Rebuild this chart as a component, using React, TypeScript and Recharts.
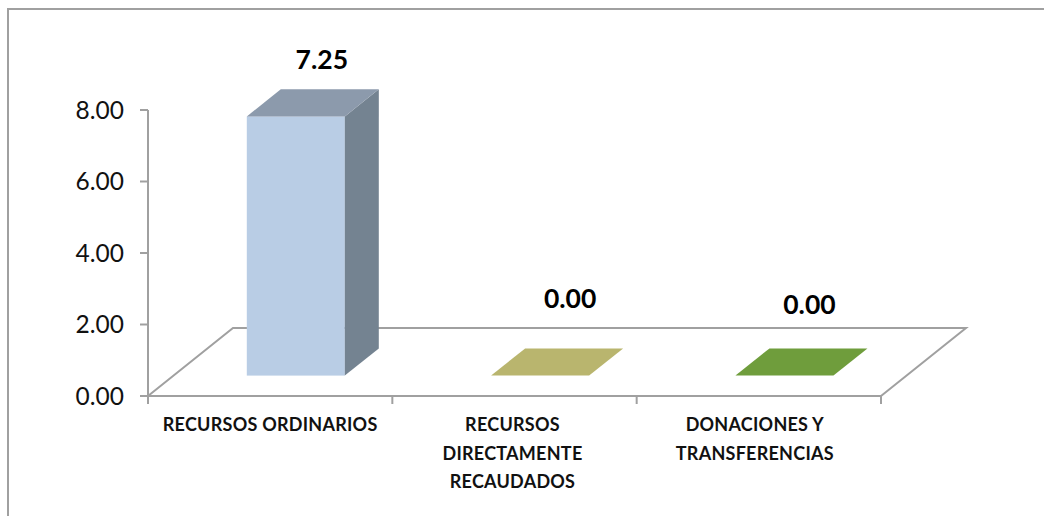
import React from 'react';
import { BarChart, Bar, XAxis, YAxis, LabelList, usePlotArea } from 'recharts';

const categories = ['RECURSOS ORDINARIOS', 'RECURSOS\nDIRECTAMENTE\nRECAUDADOS', 'DONACIONES Y\nTRANSFERENCIAS'];
const values = [7.25, 0, 0];
const yTicks = [0, 2, 4, 6, 8];

const frontColors = ['#B9CDE5', '#B9B56E', '#6F9D3C'];
const topColors = ['#8C9AAC', '#B9B56E', '#6F9D3C'];
const sideColors = ['#748391', '#B9B56E', '#6F9D3C'];

// excel's 3d box: floor depth, and where the bars sit on it
const DEPTH_X = 85;
const DEPTH_Y = 68;
const BAR_FRONT = 0.3;
const BAR_DEPTH = 0.4;
const GREY = '#A0A0A0';
const FONT = 'Lato, sans-serif';

// nudges for the value labels, excel placed them by hand
const labelNudge = [
  { dx: 9, dy: -30 },
  { dx: 13, dy: -50 },
  { dx: 8, dy: -44 },
];

const data = categories.map((name, i) => ({ name, value: values[i] }));

function Floor() {
  const plot = usePlotArea();
  if (!plot) return null;
  const left = plot.x;
  const right = plot.x + plot.width;
  const bottom = plot.y + plot.height;
  const band = plot.width / categories.length;
  return (
    <g fill="none" stroke={GREY} strokeWidth={2}>
      <path d={`M${left} ${bottom}L${left + DEPTH_X} ${bottom - DEPTH_Y}H${right + DEPTH_X}L${right} ${bottom}`} />
      {[0, 1, 2, 3].map((i) => (
        <line key={i} x1={left + i * band} x2={left + i * band} y1={bottom} y2={bottom + 8} />
      ))}
    </g>
  );
}

function Box(props: any) {
  const { x, y, width, height, index } = props;
  const fx = x + BAR_FRONT * DEPTH_X;
  const fy = y - BAR_FRONT * DEPTH_Y;
  const dx = BAR_DEPTH * DEPTH_X;
  const dy = BAR_DEPTH * DEPTH_Y;
  return (
    <g>
      <rect x={fx} y={fy} width={width} height={height} fill={frontColors[index]} />
      <path
        d={`M${fx + width} ${fy}l${dx} ${-dy}v${height}l${-dx} ${dy}z`}
        fill={sideColors[index]}
      />
      <path
        d={`M${fx} ${fy}l${dx} ${-dy}h${width}l${-dx} ${dy}z`}
        fill={topColors[index]}
      />
    </g>
  );
}

function ValueLabel(props: any) {
  const { x, y, width, value, index } = props;
  const cx = x + width / 2 + BAR_FRONT * DEPTH_X + (BAR_DEPTH * DEPTH_X) / 2 + labelNudge[index].dx;
  const cy = y - (BAR_FRONT + BAR_DEPTH) * DEPTH_Y + labelNudge[index].dy;
  return (
    <text x={cx} y={cy} textAnchor="middle" dominantBaseline="central" fontFamily={FONT} fontWeight={700} fontSize={26.5} fill="#000">
      {Number(value).toFixed(2)}
    </text>
  );
}

function CategoryTick(props: any) {
  const { x, y, payload } = props;
  const lines = String(payload.value).split('\n');
  const cx = x - payload.index * 2;
  return (
    <text x={cx} textAnchor="middle" fontFamily={FONT} fontWeight={700} fontSize={18} letterSpacing={0.25} fill="#111">
      {lines.map((line: string, i: number) => (
        <tspan key={i} x={cx} y={y + i * 28.5} dominantBaseline="central">
          {line}
        </tspan>
      ))}
    </text>
  );
}

export default function App() {
  return (
    <div style={{ position: 'absolute', left: 0, top: 0, width: 1044, height: 516, overflow: 'hidden', background: '#fff' }}>
      <div style={{ position: 'absolute', left: 7, top: 8, width: 1037, height: 508, borderTop: `2px solid ${GREY}`, borderLeft: `2px solid ${GREY}` }} />
      <div style={{ position: 'absolute', left: 0, top: 0 }}>
        <BarChart
          width={1044}
          height={516}
          data={data}
          margin={{ top: 110, right: 163, bottom: 0, left: 0 }}
          barCategoryGap="30%"
        >
          <Floor />
          <YAxis
            domain={[0, 8]}
            ticks={yTicks}
            width={148}
            interval={0}
            tickFormatter={(v: number) => v.toFixed(2)}
            tick={{ fontFamily: FONT, fontSize: 24.5, fill: '#111' }}
            tickSize={8}
            tickMargin={16}
            axisLine={{ stroke: GREY, strokeWidth: 2 }}
            tickLine={{ stroke: GREY, strokeWidth: 2 }}
          />
          <XAxis
            dataKey="name"
            height={120}
            interval={0}
            tick={<CategoryTick />}
            tickLine={false}
            tickSize={8}
            tickMargin={20}
            axisLine={{ stroke: GREY, strokeWidth: 2 }}
          />
          <Bar dataKey="value" isAnimationActive={false} shape={<Box />}>
            <LabelList dataKey="value" content={<ValueLabel />} />
          </Bar>
        </BarChart>
      </div>
    </div>
  );
}
